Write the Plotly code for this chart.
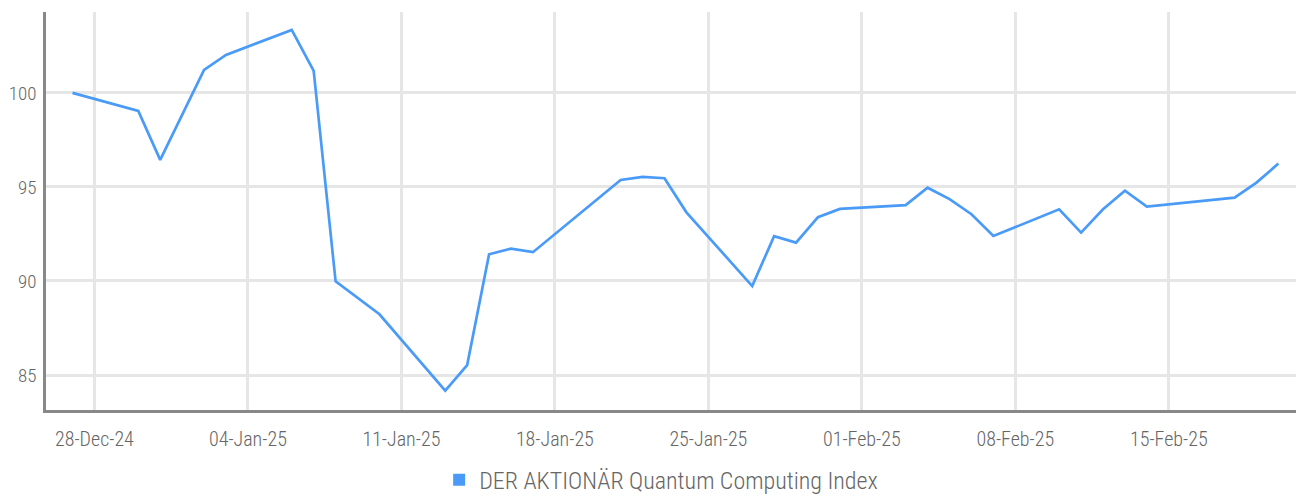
import plotly.graph_objects as go

dates = ["2024-12-27", "2024-12-30", "2024-12-31", "2025-01-02", "2025-01-03",
         "2025-01-06", "2025-01-07", "2025-01-08", "2025-01-10", "2025-01-13",
         "2025-01-14", "2025-01-15", "2025-01-16", "2025-01-17", "2025-01-21",
         "2025-01-22", "2025-01-23", "2025-01-24", "2025-01-27", "2025-01-28",
         "2025-01-29", "2025-01-30", "2025-01-31", "2025-02-03", "2025-02-04",
         "2025-02-05", "2025-02-06", "2025-02-07", "2025-02-10", "2025-02-11",
         "2025-02-12", "2025-02-13", "2025-02-14", "2025-02-18", "2025-02-19",
         "2025-02-20"]
values = [100.0, 99.04, 96.44, 101.22, 102.02,
          103.35, 101.17, 89.98, 88.23, 84.17,
          85.53, 91.42, 91.72, 91.53, 95.37,
          95.53, 95.46, 93.65, 89.73, 92.38,
          92.04, 93.39, 93.83, 94.03, 94.96,
          94.35, 93.55, 92.39, 93.81, 92.57,
          93.81, 94.80, 93.95, 94.43, 95.23,
          96.24]
series_name = "DER AKTIONÄR Quantum Computing Index"
x_tick_vals = ["2024-12-28", "2025-01-04", "2025-01-11", "2025-01-18",
               "2025-01-25", "2025-02-01", "2025-02-08", "2025-02-15"]
x_tick_text = ["28-Dec-24", "04-Jan-25", "11-Jan-25", "18-Jan-25",
               "25-Jan-25", "01-Feb-25", "08-Feb-25", "15-Feb-25"]
y_tick_vals = [85, 90, 95, 100]

LINE = "#4a9bf7"
FONT = "Roboto Condensed, Liberation Sans Narrow, Roboto, sans-serif"

fig = go.Figure()
fig.add_trace(go.Scatter(x=dates, y=values, mode="lines",
                         line=dict(color=LINE, width=2.7),
                         showlegend=False, name=series_name))
fig.add_trace(go.Scatter(x=[None], y=[None], mode="markers",
                         marker=dict(symbol="square", color=LINE, size=10),
                         name=series_name, showlegend=True))

# page body has an 8px margin, so the figure is offset to land where the reference is
fig.update_layout(
    width=1296, height=495,
    margin=dict(l=38, r=0, t=4, b=93),
    paper_bgcolor="white", plot_bgcolor="white",
    font=dict(family=FONT, color="#666666", size=20, weight=300),
    legend=dict(orientation="h", x=0.489, xanchor="center", y=-0.12,
                yanchor="top", font=dict(size=24), itemwidth=30,
                itemsizing="constant"),
    xaxis=dict(range=["2024-12-25 19:00", "2025-02-21 04:00"],
               tickvals=x_tick_vals, ticktext=x_tick_text,
               tickfont=dict(size=20),
               showgrid=True, gridcolor="#e6e6e6", gridwidth=2.5,
               showline=True, linecolor="#888888", linewidth=2.5,
               ticks="", zeroline=False, automargin=False,
               ticklabelstandoff=9),
    yaxis=dict(range=[83.14, 104.3], tickvals=y_tick_vals,
               tickfont=dict(size=19),
               showgrid=True, gridcolor="#e6e6e6", gridwidth=2.5,
               showline=True, linecolor="#888888", linewidth=2.5,
               ticks="", zeroline=False, automargin=False,
               ticklabelstandoff=3),
)

fig.write_html("out.html")
